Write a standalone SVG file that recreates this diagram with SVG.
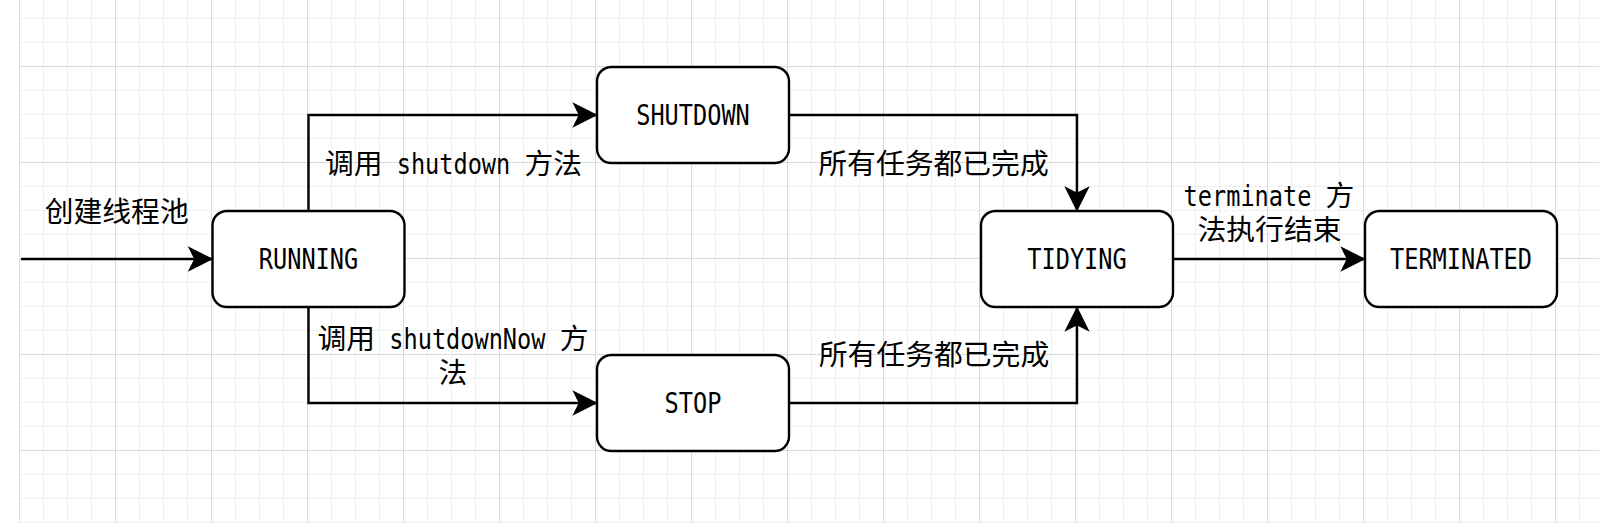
<svg xmlns="http://www.w3.org/2000/svg" width="1599" height="523" viewBox="0 0 1599 523">
<style>
.node rect{fill:#ffffff;stroke:#000000;stroke-width:2.4}
.t{font-family:"DejaVu Sans Mono","Noto Sans CJK SC",monospace;font-size:28.8px;fill:#000000;text-anchor:middle}
.s{font-family:"DejaVu Sans Mono","Noto Sans CJK SC",monospace;font-size:28.8px;fill:#000000;text-anchor:start}
.edge{fill:none;stroke:#000000;stroke-width:2.4;marker-end:url(#arrow)}
</style>
<defs>
<pattern id="grid" patternUnits="userSpaceOnUse" x="19" y="66" width="96" height="96">
<path d="M24.5 0V96M48.5 0V96M72.5 0V96M0 24.5H96M0 48.5H96M0 72.5H96" stroke="#f0f0f0" stroke-width="1" fill="none"/>
<path d="M0.5 0V96M0 0.5H96" stroke="#dadada" stroke-width="1" fill="none"/>
</pattern>
<marker id="arrow" markerUnits="userSpaceOnUse" viewBox="-26 -14 30 28" refX="0" refY="0" markerWidth="30" markerHeight="28" orient="auto" overflow="visible">
<path d="M0,0 L-22,-11 L-16.5,0 L-22,11 Z" fill="#000000" stroke="#000000" stroke-width="1.5" stroke-linejoin="miter"/>
</marker>
</defs>
<rect x="0" y="0" width="1599" height="523" fill="#ffffff"/>
<rect x="19" y="0" width="1580" height="523" fill="url(#grid)"/>
<g id="connectors">
<path class="edge" d="M21 259H211.5"/>
<path class="edge" d="M308.5 211V115H596"/>
<path class="edge" d="M308.5 307V403H596"/>
<path class="edge" d="M789 115H1077V210"/>
<path class="edge" d="M789 403H1077V308"/>
<path class="edge" d="M1173 259H1364"/>
</g>
<g id="edge-labels">
<text class="t" x="116.7" y="221.5">创建线程池</text>
<text class="s" x="324.9" y="173.5">调用</text>
<text class="s" transform="translate(396.7 173.5) scale(0.819 1)">shutdown</text>
<text class="s" x="524.5" y="173.5">方法</text>
<text class="s" x="317.5" y="348.5">调用</text>
<text class="s" transform="translate(389.3 348.5) scale(0.819 1)">shutdownNow</text>
<text class="s" x="559.7" y="348.5">方</text>
<text class="t" x="453" y="382.5">法</text>
<text class="t" x="933.5" y="173.5">所有任务都已完成</text>
<text class="t" x="934" y="365">所有任务都已完成</text>
<text class="s" transform="translate(1183.6 205.5) scale(0.819 1)">terminate</text>
<text class="s" x="1325.6" y="205.5">方</text>
<text class="t" x="1269.5" y="239.7">法执行结束</text>
</g>
<g id="node-running" class="node">
<rect x="212.5" y="211" width="192" height="96" rx="14.4" ry="14.4"/>
<text class="t" transform="translate(308.5 269) scale(0.819 1)">RUNNING</text>
</g>
<g id="node-shutdown" class="node">
<rect x="597" y="67" width="192" height="96" rx="14.4" ry="14.4"/>
<text class="t" transform="translate(693 125) scale(0.819 1)">SHUTDOWN</text>
</g>
<g id="node-stop" class="node">
<rect x="597" y="355" width="192" height="96" rx="14.4" ry="14.4"/>
<text class="t" transform="translate(693 413) scale(0.819 1)">STOP</text>
</g>
<g id="node-tidying" class="node">
<rect x="981" y="211" width="192" height="96" rx="14.4" ry="14.4"/>
<text class="t" transform="translate(1077 269) scale(0.819 1)">TIDYING</text>
</g>
<g id="node-terminated" class="node">
<rect x="1365" y="211" width="192" height="96" rx="14.4" ry="14.4"/>
<text class="t" transform="translate(1461 269) scale(0.819 1)">TERMINATED</text>
</g>
</svg>
